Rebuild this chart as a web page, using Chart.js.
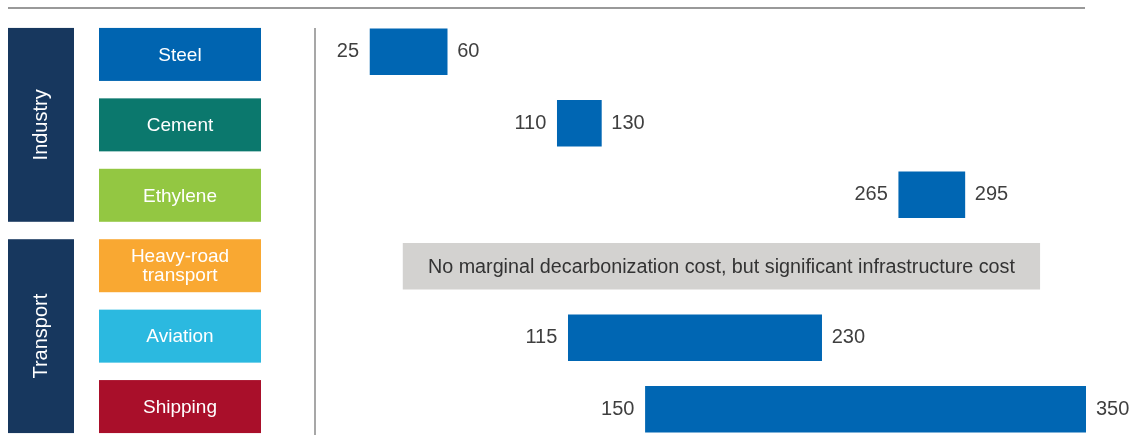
<!DOCTYPE html>
<html>
<head>
<meta charset="utf-8">
<script src="https://cdn.jsdelivr.net/npm/chart.js@4.4.1/dist/chart.umd.min.js"></script>
<style>
  html, body { margin: 0; padding: 0; background: #fff; overflow: hidden; }
  #wrap { position: relative; width: 1142px; height: 450px; }
</style>
</head>
<body>
<div id="wrap"><canvas id="grafica" width="1142" height="450"></canvas></div>
<script>
// categorias y valores (costo marginal de descarbonizacion)
var categorias = ["Steel", "Cement", "Ethylene", ["Heavy-road", "transport"], "Aviation", "Shipping"];
var costoMin = [25, 110, 265, null, 115, 150];
var costoMax = [60, 130, 295, null, 230, 350];
var colores = ["#0064b0", "#0b786d", "#93c742", "#f9a832", "#2bb9e0", "#a90f2a"];
var grupos = ["Industry", "Transport"];
var grupoInicio = [0, 3];
var grupoFin = [2, 5];
var notaRango = [40, 329];
var notaTexto = "No marginal decarbonization cost, but significant infrastructure cost";

var fuente = "'Liberation Sans', Arial, sans-serif";

var rangos = costoMin.map(function (v, i) {
  return v == null ? null : [v, costoMax[i]];
});
var notas = categorias.map(function (c, i) {
  return i == 3 ? notaRango : null;
});

// centro de la caja de la izquierda (un poco mas juntas que las barras)
function centroCaja(chart, i)
{
  var y = chart.scales.y;
  var medio = (chart.chartArea.top + chart.chartArea.bottom) / 2;
  return medio + (y.getPixelForValue(i) - medio) * 0.985;
}

var decoraciones = {
  id: "decoraciones",
  beforeDraw: function (chart) {
    var ctx = chart.ctx;
    ctx.save();
    // linea superior
    ctx.strokeStyle = "#999999";
    ctx.lineWidth = 2;
    ctx.beginPath();
    ctx.moveTo(8, 8);
    ctx.lineTo(1085, 8);
    ctx.stroke();
    // linea vertical (eje)
    var x0 = chart.scales.x.getPixelForValue(0);
    ctx.strokeStyle = "#8a8a8a";
    ctx.lineWidth = 1.5;
    ctx.beginPath();
    ctx.moveTo(x0, 28);
    ctx.lineTo(x0, 450);
    ctx.stroke();

    // cajas de categoria
    ctx.textAlign = "center";
    ctx.textBaseline = "middle";
    ctx.font = "19px " + fuente;
    for (var i = 0; i < categorias.length; i++) {
      var c = centroCaja(chart, i);
      ctx.fillStyle = colores[i];
      ctx.fillRect(99, c - 26.5, 162, 53);
      ctx.fillStyle = "#ffffff";
      var lineas = Array.isArray(categorias[i]) ? categorias[i] : [categorias[i]];
      for (var k = 0; k < lineas.length; k++) {
        ctx.fillText(lineas[k], 180, c + 1 + (k - (lineas.length - 1) / 2) * 19);
      }
    }

    // cajas de grupo
    for (var g = 0; g < grupos.length; g++) {
      var top = centroCaja(chart, grupoInicio[g]) - 26.5;
      var bot = centroCaja(chart, grupoFin[g]) + 26.5;
      ctx.fillStyle = "#17375e";
      ctx.fillRect(8, top, 66, bot - top);
      ctx.save();
      ctx.translate(41, (top + bot) / 2);
      ctx.rotate(-Math.PI / 2);
      ctx.fillStyle = "#ffffff";
      ctx.font = "20px " + fuente;
      ctx.fillText(grupos[g], 0, 0);
      ctx.restore();
    }
    ctx.restore();
  },
  afterDatasetsDraw: function (chart) {
    var ctx = chart.ctx;
    var x = chart.scales.x;
    var y = chart.scales.y;
    ctx.save();
    ctx.textBaseline = "middle";
    ctx.fillStyle = "#3f3f3f";
    ctx.font = "20px " + fuente;
    for (var i = 0; i < rangos.length; i++) {
      if (!rangos[i]) continue;
      var c = y.getPixelForValue(i);
      ctx.textAlign = "right";
      ctx.fillText(String(rangos[i][0]), x.getPixelForValue(rangos[i][0]) - 11, c);
      ctx.textAlign = "left";
      ctx.fillText(String(rangos[i][1]), x.getPixelForValue(rangos[i][1]) + 10, c);
    }
    // texto de la nota, angosto como en el original
    var cn = y.getPixelForValue(3);
    var cx = (x.getPixelForValue(notaRango[0]) + x.getPixelForValue(notaRango[1])) / 2;
    ctx.font = "20px " + fuente;
    var ancho = ctx.measureText(notaTexto).width;
    ctx.translate(cx, cn + 1);
    ctx.scale(587 / ancho, 1);
    ctx.textAlign = "center";
    ctx.fillStyle = "#333333";
    ctx.fillText(notaTexto, 0, 0);
    ctx.restore();
  }
};

var chart = new Chart(document.getElementById("grafica"), {
  type: "bar",
  data: {
    labels: categorias,
    datasets: [{
      data: rangos,
      backgroundColor: "#0066b3",
      barThickness: 46,
      grouped: false
    }, {
      data: notas,
      backgroundColor: "#d3d2d0",
      barThickness: 46,
      grouped: false
    }]
  },
  options: {
    indexAxis: "y",
    responsive: false,
    animation: false,
    layout: { padding: { top: 16, bottom: 5, left: 315, right: 56 } },
    plugins: {
      legend: { display: false },
      tooltip: { enabled: false }
    },
    scales: {
      x: { display: false, min: 0, max: 350 },
      y: { display: false }
    }
  },
  plugins: [decoraciones]
});
</script>
</body>
</html>
